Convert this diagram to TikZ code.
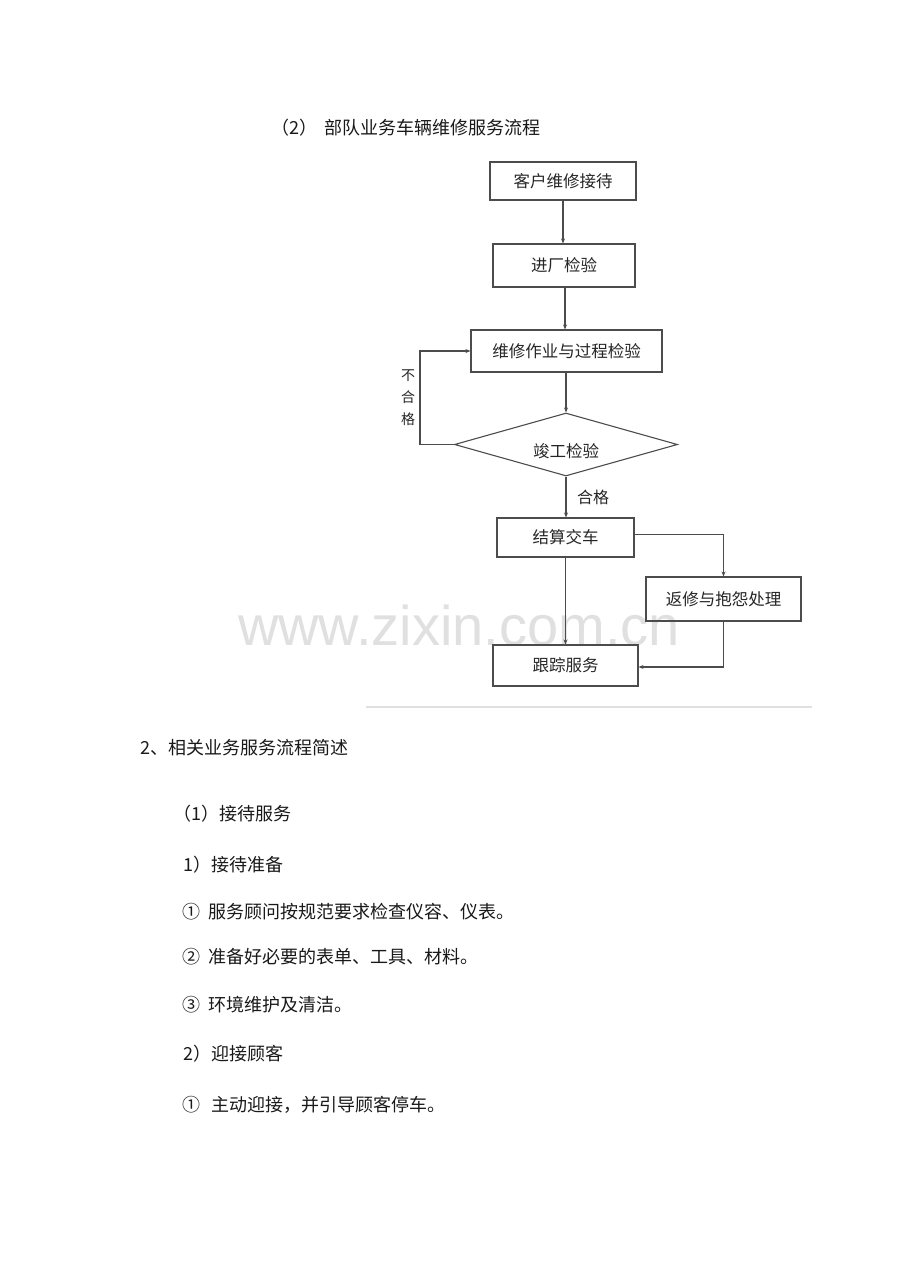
\documentclass[tikz,border=0pt]{standalone}
\usepackage{fontspec}
\setmainfont{Noto Sans CJK SC}
\newfontfamily\wmfont{Liberation Sans}
\usetikzlibrary{arrows.meta,shapes.geometric}
\begin{document}
\begin{tikzpicture}[x=1pt,y=-1pt,
  box/.style={draw=black!70,line width=1.1pt,inner sep=0pt,font=\fontsize{16.5}{17}\selectfont,text=black!85},
  conn/.style={draw=black!70,line width=1.1pt},
  arr/.style={conn,-{Stealth[length=5pt,width=4pt]}},
  body/.style={anchor=base west,inner sep=0pt,font=\fontsize{18}{18}\selectfont,text=black!90},
  small/.style={inner sep=0pt,font=\fontsize{14}{22}\selectfont,text=black!85,align=center}]
\useasboundingbox (0,0) rectangle (920,1276);
\fill[white] (0,0) rectangle (920,1276);
% watermark
\node[inner sep=0pt,font=\wmfont\fontsize{56}{56}\selectfont,text=black!12] (wm) at (459,625) {www.zixin.com.cn};
% title
\node[body] (title) at (271,134.5) {（2）\hspace{7pt}部队业务车辆维修服务流程};
% flowchart
\node[box,minimum width=146,minimum height=38] (b1) at (563,181) {客户维修接待};
\node[box,minimum width=142,minimum height=43] (b2) at (564,265.5) {进厂检验};
\node[box,minimum width=191,minimum height=42] (b3) at (566.5,351) {维修作业与过程检验};
\node[draw=black!70,line width=1.1pt,diamond,minimum width=223,minimum height=63,inner sep=0pt] (dia) at (566,444.5) {};
\node[inner sep=0pt,font=\fontsize{16.5}{17}\selectfont,text=black!85] (diatxt) at (566,451) {竣工检验};
\node[box,minimum width=137,minimum height=39] (b4) at (565.5,537.5) {结算交车};
\node[box,minimum width=155,minimum height=44] (b5) at (723.5,599) {返修与抱怨处理};
\node[box,minimum width=145,minimum height=41] (b6) at (565.5,665.5) {跟踪服务};
\node[small] (bhg) at (408,398) {不\\合\\格};
\node[inner sep=0pt,font=\fontsize{16}{16}\selectfont,text=black!85] (hg) at (593,497) {合格};
\draw[arr,line width=1.7pt] (b1.south -| 563,0) -- (b2.north -| 563,0);
\draw[arr] (b2.south -| 565,0) -- (b3.north -| 565,0);
\draw[arr] (b3.south -| 566,0) -- (dia.north);
\draw[arr] (dia.west) -- ++(-34,0) |- (b3.west);
\draw[arr] (dia.south) -- (b4.north -| dia.south);
\draw[arr] ([yshift=3pt]b4.east) -| (b5.north);
\draw[arr] (b5.south) |- ([yshift=-1.5pt]b6.east);
\draw[arr] (b4.south) -- (b6.north);
\coordinate (gl1) at (366,707);
\coordinate (gl2) at (812,707);
\draw[black!12,line width=2.5pt] (gl1) -- (gl2);
% body text
\node[body] (t1) at (140,754) {2、相关业务服务流程简述};
\node[body] (t2) at (173,820) {（1）接待服务};
\node[body] (t3) at (183,871) {1）接待准备};
\node[body] (t4) at (182,918) {①\hspace{8pt}服务顾问按规范要求检查仪容、仪表。};
\node[body] (t5) at (182,963) {②\hspace{8pt}准备好必要的表单、工具、材料。};
\node[body] (t6) at (182,1011) {③\hspace{8pt}环境维护及清洁。};
\node[body] (t7) at (183,1060) {2）迎接顾客};
\node[body] (t8) at (182,1111) {①\hspace{11pt}主动迎接，并引导顾客停车。};
\end{tikzpicture}
\end{document}
